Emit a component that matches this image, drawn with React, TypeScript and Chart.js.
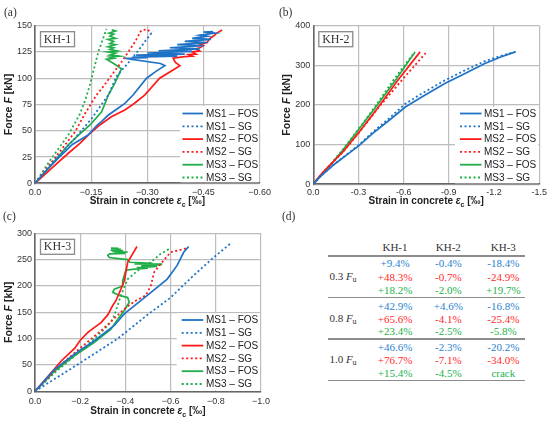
import { useEffect, useRef } from 'react';
import Chart from 'chart.js/auto';

type Pt = [number, number];

const BLUE = '#1f73c6';
const RED = '#ff1a1a';
const GREEN = '#1fae48';
const GRID = '#bdbdbd';
const AXIS = '#666666';
const SANS = '"Liberation Sans", Arial, sans-serif';
const SERIF = '"Liberation Serif", "Times New Roman", serif';

const seriesLabels = ['MS1 – FOS', 'MS1 – SG', 'MS2 – FOS', 'MS2 – SG', 'MS3 – FOS', 'MS3 – SG'];

// KH-1 : [strain ‰, force kN]
const kh1Ms1Fos: Pt[] = [
  [0, 0], [-0.03, 12], [-0.062, 24], [-0.1, 37], [-0.142, 46], [-0.165, 55], [-0.178, 59], [-0.196, 65],
  [-0.22, 71], [-0.24, 76], [-0.262, 84], [-0.298, 100], [-0.325, 107], [-0.347, 112], [-0.335, 114],
  [-0.25, 118.5], [-0.24, 119], [-0.3, 119.5], [-0.26, 120], [-0.38, 121], [-0.27, 122], [-0.4, 123],
  [-0.3, 124], [-0.42, 125.5], [-0.33, 126], [-0.44, 128], [-0.36, 129], [-0.45, 131], [-0.38, 132],
  [-0.46, 134], [-0.4, 135], [-0.47, 137], [-0.42, 138], [-0.46, 140], [-0.44, 141], [-0.48, 143],
  [-0.45, 144], [-0.476, 144.5],
];
const kh1Ms1Sg: Pt[] = [
  [0, 0], [-0.05, 21], [-0.107, 43], [-0.15, 61], [-0.196, 84], [-0.218, 102], [-0.25, 115],
  [-0.275, 126], [-0.3, 138], [-0.316, 145],
];
const kh1Ms2Fos: Pt[] = [
  [0, 0], [-0.05, 16], [-0.089, 28.6], [-0.12, 38], [-0.147, 47.6], [-0.175, 56], [-0.204, 63.4],
  [-0.24, 69.8], [-0.265, 76], [-0.293, 84], [-0.333, 100], [-0.36, 106], [-0.387, 112], [-0.375, 115],
  [-0.369, 119], [-0.4, 120.5], [-0.42, 121], [-0.41, 122.5], [-0.43, 123], [-0.42, 125], [-0.44, 126],
  [-0.43, 128], [-0.44, 129], [-0.45, 131], [-0.44, 132.5], [-0.46, 134], [-0.465, 137], [-0.47, 138.5],
  [-0.48, 141], [-0.485, 143], [-0.5, 146],
];
const kh1Ms2Sg: Pt[] = [
  [0, 0], [-0.053, 24], [-0.107, 49], [-0.133, 66], [-0.164, 84], [-0.178, 90], [-0.205, 103],
  [-0.231, 115.5], [-0.267, 134.5], [-0.284, 145.6], [-0.3, 146.5], [-0.311, 143],
];
const kh1Ms3Fos: Pt[] = [
  [0, 0], [-0.045, 18], [-0.089, 36.5], [-0.12, 47], [-0.147, 55.5], [-0.178, 68], [-0.196, 84],
  [-0.213, 95], [-0.222, 102], [-0.231, 109], [-0.21, 114], [-0.191, 118], [-0.21, 119], [-0.2, 120],
  [-0.225, 121], [-0.2, 122], [-0.215, 124], [-0.195, 125], [-0.22, 126], [-0.2, 127.5], [-0.21, 129],
  [-0.195, 130], [-0.215, 132], [-0.2, 133], [-0.21, 135], [-0.195, 137], [-0.215, 138], [-0.2, 140],
  [-0.21, 142], [-0.198, 143], [-0.215, 145], [-0.205, 146],
];
const kh1Ms3Sg: Pt[] = [
  [0, 0], [-0.044, 23.8], [-0.089, 46], [-0.12, 66], [-0.135, 80], [-0.147, 94], [-0.169, 125], [-0.191, 147],
];

// KH-2
const kh2Ms1Fos: Pt[] = [
  [0, 0], [-0.044, 18.5], [-0.131, 48], [-0.218, 73], [-0.305, 98], [-0.393, 128], [-0.502, 161],
  [-0.611, 195], [-0.72, 220], [-0.873, 254], [-1.004, 279], [-1.135, 304], [-1.244, 321], [-1.342, 334],
];
const kh2Ms1Sg: Pt[] = [
  [0, 0], [-0.044, 19], [-0.131, 48.5], [-0.218, 74], [-0.305, 100], [-0.393, 131], [-0.502, 166],
  [-0.611, 203], [-0.72, 229], [-0.873, 262], [-1.004, 287], [-1.135, 310], [-1.244, 324], [-1.342, 334],
];
const kh2Ms2Fos: Pt[] = [
  [0, 0], [-0.03, 15], [-0.065, 31], [-0.196, 81.5], [-0.305, 132], [-0.425, 191], [-0.56, 262], [-0.709, 334],
];
const kh2Ms2Sg: Pt[] = [
  [0, 0], [-0.03, 15], [-0.065, 30], [-0.196, 81], [-0.305, 131], [-0.436, 195], [-0.6, 268], [-0.753, 334],
];
const kh2Ms3Fos: Pt[] = [
  [0, 0], [-0.03, 14], [-0.065, 27], [-0.196, 86], [-0.305, 140], [-0.415, 195], [-0.55, 265], [-0.676, 334],
];
const kh2Ms3Sg: Pt[] = [
  [0, 0], [-0.03, 14], [-0.06, 26], [-0.19, 85], [-0.3, 139], [-0.41, 196], [-0.53, 262], [-0.665, 330],
];

// KH-3
const kh3Ms1Fos: Pt[] = [
  [0, 0], [-0.088, 42], [-0.176, 71], [-0.263, 96], [-0.351, 125], [-0.395, 147], [-0.497, 182],
  [-0.585, 213], [-0.629, 239], [-0.658, 264], [-0.68, 275],
];
const kh3Ms1Sg: Pt[] = [
  [0, 0], [-0.1, 27], [-0.2, 54], [-0.366, 100], [-0.5, 146], [-0.6, 178], [-0.702, 220], [-0.79, 254], [-0.863, 280],
];
const kh3Ms2Fos: Pt[] = [
  [0, 0], [-0.073, 36], [-0.117, 58], [-0.176, 82], [-0.2, 97], [-0.234, 112], [-0.293, 131], [-0.322, 145],
  [-0.344, 163], [-0.358, 172], [-0.38, 194], [-0.395, 210], [-0.402, 226], [-0.41, 245], [-0.432, 261], [-0.451, 275],
];
const kh3Ms2Sg: Pt[] = [
  [0, 0], [-0.1, 45], [-0.2, 82], [-0.3, 118], [-0.402, 159], [-0.446, 172], [-0.49, 182], [-0.512, 200],
  [-0.527, 226], [-0.556, 242], [-0.6, 264], [-0.658, 270], [-0.676, 273],
];
const kh3Ms3Fos: Pt[] = [
  [0, 0], [-0.088, 39], [-0.176, 68], [-0.263, 93], [-0.336, 118], [-0.366, 137], [-0.388, 149], [-0.417, 169],
  [-0.41, 178], [-0.373, 182], [-0.344, 188], [-0.351, 194], [-0.388, 200], [-0.388, 210], [-0.395, 220],
  [-0.402, 230], [-0.44, 232], [-0.5, 234], [-0.45, 235], [-0.54, 237], [-0.47, 238], [-0.56, 240],
  [-0.49, 240.5], [-0.563, 241.5], [-0.44, 242], [-0.52, 243], [-0.42, 245], [-0.41, 250], [-0.37, 252],
  [-0.329, 254], [-0.322, 258], [-0.33, 261], [-0.4, 262], [-0.35, 263], [-0.41, 264.5], [-0.34, 265.5],
  [-0.39, 267], [-0.335, 268], [-0.38, 269.5], [-0.34, 270.5], [-0.37, 271.5], [-0.336, 272],
];
const kh3Ms3Sg: Pt[] = [
  [0, 0], [-0.1, 40], [-0.2, 76], [-0.263, 100], [-0.3, 115], [-0.336, 131], [-0.351, 144], [-0.38, 182],
  [-0.41, 213], [-0.454, 229], [-0.512, 245], [-0.556, 261], [-0.6, 272],
];

// tick values / labels
const kh1XTicks = [0, -0.15, -0.3, -0.45, -0.6];
const kh1XLabels = ['0.0', '−0.15', '−0.30', '−0.45', '−0.60'];
const kh1YTicks = [0, 25, 50, 75, 100, 125, 150];
const kh2XTicks = [0, -0.3, -0.6, -0.9, -1.2, -1.5];
const kh2XLabels = ['0.0', '-0.3', '-0.6', '-0.9', '-1.2', '-1.5'];
const kh2YTicks = [0, 100, 200, 300, 400];
const kh3XTicks = [0, -0.2, -0.4, -0.6, -0.8, -1.0];
const kh3XLabels = ['0.0', '−0.2', '−0.4', '−0.6', '−0.8', '−1.0'];
const kh3YTicks = [0, 50, 100, 150, 200, 250, 300];

// table (d)
const tableCols = ['KH-1', 'KH-2', 'KH-3'];
const loadLevels = ['0.3', '0.8', '1.0'];
const diff03 = [['+9.4%', '+48.3%', '+18.2%'], ['-0.4%', '-0.7%', '-2.0%'], ['-18.4%', '-24.9%', '+19.7%']];
const diff08 = [['+42.9%', '+65.6%', '+23.4%'], ['+4.6%', '-4.1%', '-2.5%'], ['-16.8%', '-25.4%', '-5.8%']];
const diff10 = [['+46.6%', '+76.7%', '+15.4%'], ['-2.3%', '-7.1%', '-4.5%'], ['-20.2%', '-34.0%', 'crack']];

type PanelCfg = {
  left: number; top: number; width: number; height: number;
  pad: { left: number; top: number; right: number; bottom: number };
  yWidth: number; xHeight: number; xPad: number;
  xMin: number; xTicks: number[]; xLabels: string[];
  yMax: number; yTicks: number[];
  series: Pt[][];
  tag: string;
  legendLeft: number; legendTop: number; legendRowY: number; legendGap: number;
  lineX0: number; lineX1: number; textX: number;
  yTitleX: number; xTitleY: number;
};

const colors = [BLUE, BLUE, RED, RED, GREEN, GREEN];

function drawRich(ctx: CanvasRenderingContext2D, parts: { t: string; f: string; dy?: number }[], cx: number, cy: number) {
  let total = 0;
  parts.forEach((p) => { ctx.font = p.f; total += ctx.measureText(p.t).width; });
  let x = cx - total / 2;
  ctx.textAlign = 'left';
  ctx.textBaseline = 'middle';
  parts.forEach((p) => {
    ctx.font = p.f;
    ctx.fillText(p.t, x, cy + (p.dy || 0));
    x += ctx.measureText(p.t).width;
  });
}

function decor(cfg: PanelCfg) {
  return {
    id: 'panelDecor',
    afterDatasetsDraw(chart: any) {
      const ctx: CanvasRenderingContext2D = chart.ctx;
      const a = chart.chartArea;
      ctx.save();
      ctx.fillStyle = '#ffffff';
      ctx.fillRect(cfg.legendLeft, cfg.legendTop, a.right - 1 - cfg.legendLeft, a.bottom - 1 - cfg.legendTop);
      chart.data.datasets.forEach((ds: any, i: number) => {
        const y = cfg.legendRowY + i * cfg.legendGap;
        ctx.strokeStyle = ds.borderColor;
        ctx.lineWidth = 1.8;
        ctx.setLineDash(ds.borderDash || []);
        ctx.beginPath();
        ctx.moveTo(cfg.lineX0, y);
        ctx.lineTo(cfg.lineX1, y);
        ctx.stroke();
        ctx.setLineDash([]);
        ctx.fillStyle = '#222';
        ctx.font = `10px ${SANS}`;
        ctx.textAlign = 'left';
        ctx.textBaseline = 'middle';
        ctx.fillText(ds.label, cfg.textX, y + 0.5);
      });
      // specimen tag
      const bx = a.left + 5.5, by = a.top + 6, bw = 34, bh = 15;
      ctx.fillStyle = '#ffffff';
      ctx.fillRect(bx, by, bw, bh);
      ctx.strokeStyle = '#8a8a8a';
      ctx.lineWidth = 1.3;
      ctx.strokeRect(bx, by, bw, bh);
      ctx.fillStyle = '#333';
      ctx.font = `12px ${SERIF}`;
      ctx.textAlign = 'center';
      ctx.textBaseline = 'middle';
      ctx.fillText(cfg.tag, bx + bw / 2, by + bh / 2 + 0.5);
      ctx.restore();
    },
    afterDraw(chart: any) {
      const ctx: CanvasRenderingContext2D = chart.ctx;
      const a = chart.chartArea;
      ctx.save();
      ctx.fillStyle = '#222';
      const b = `bold 10px ${SANS}`;
      const bi = `italic bold 10px ${SANS}`;
      drawRich(ctx, [
        { t: 'Strain in concrete ', f: b },
        { t: 'ε', f: bi },
        { t: 'c', f: `bold 7px ${SANS}`, dy: 3 },
        { t: ' [‰]', f: b },
      ], (a.left + a.right) / 2, cfg.xTitleY);
      ctx.translate(cfg.yTitleX, (a.top + a.bottom) / 2);
      ctx.rotate(-Math.PI / 2);
      drawRich(ctx, [
        { t: 'Force ', f: `bold 10.5px ${SANS}` },
        { t: 'F', f: `italic bold 10.5px ${SANS}` },
        { t: ' [kN]', f: `bold 10.5px ${SANS}` },
      ], 0, 0);
      ctx.restore();
    },
  };
}

function Panel({ cfg }: { cfg: PanelCfg }) {
  const canvasRef = useRef<HTMLCanvasElement | null>(null);

  useEffect(() => {
    const canvas = canvasRef.current;
    if (!canvas) return;
    const tickFont = { family: SANS, size: 9 };
    const chart = new Chart(canvas, {
      type: 'scatter',
      data: {
        datasets: cfg.series.map((pts, i) => ({
          label: seriesLabels[i],
          data: pts.map(([x, y]) => ({ x, y })),
          showLine: true,
          borderColor: colors[i],
          backgroundColor: colors[i],
          borderWidth: i % 2 === 0 ? 1.7 : 1.8,
          borderDash: i % 2 === 0 ? [] : [2, 2.5],
          pointRadius: 0,
          tension: 0,
        })),
      },
      options: {
        responsive: true,
        maintainAspectRatio: false,
        animation: false,
        layout: { padding: cfg.pad },
        plugins: { legend: { display: false }, tooltip: { enabled: false } },
        scales: {
          x: {
            type: 'linear',
            min: cfg.xMin,
            max: 0,
            reverse: true,
            grid: { color: GRID, lineWidth: 1.2, drawTicks: false },
            border: { color: AXIS, width: 1.6 },
            ticks: {
              font: tickFont, color: '#333', padding: cfg.xPad, autoSkip: false, maxRotation: 0,
              callback: (_v: any, i: number) => cfg.xLabels[i],
            },
            afterBuildTicks: (s: any) => { s.ticks = cfg.xTicks.map((v) => ({ value: v })); },
            afterFit: (s: any) => { s.height = cfg.xHeight; },
          },
          y: {
            type: 'linear',
            min: 0,
            max: cfg.yMax,
            grid: { color: GRID, lineWidth: 1.2, drawTicks: false },
            border: { color: AXIS, width: 1.6 },
            ticks: { font: tickFont, color: '#333', padding: 3, autoSkip: false },
            afterBuildTicks: (s: any) => { s.ticks = cfg.yTicks.map((v) => ({ value: v })); },
            afterFit: (s: any) => { s.width = cfg.yWidth; },
          },
        },
      },
      plugins: [decor(cfg)],
    } as any);
    return () => chart.destroy();
  }, [cfg]);

  return (
    <div style={{ position: 'absolute', left: cfg.left, top: cfg.top, width: cfg.width, height: cfg.height }}>
      <canvas ref={canvasRef} />
    </div>
  );
}

const panelA: PanelCfg = {
  left: 0, top: 0, width: 275, height: 210,
  pad: { left: 0, top: 25.7, right: 15, bottom: 0 },
  yWidth: 35, xHeight: 26.7, xPad: 4,
  xMin: -0.6, xTicks: kh1XTicks, xLabels: kh1XLabels, yMax: 150, yTicks: kh1YTicks,
  series: [kh1Ms1Fos, kh1Ms1Sg, kh1Ms2Fos, kh1Ms2Sg, kh1Ms3Fos, kh1Ms3Sg],
  tag: 'KH-1',
  legendLeft: 180, legendTop: 106, legendRowY: 113.5, legendGap: 12.8,
  lineX0: 182.5, lineX1: 203, textX: 206,
  yTitleX: 9.5, xTitleY: 201.7,
};

const panelB: PanelCfg = {
  left: 275, top: 0, width: 275, height: 210,
  pad: { left: 0, top: 25.7, right: 10, bottom: 0 },
  yWidth: 38.3, xHeight: 25.7, xPad: 3,
  xMin: -1.5, xTicks: kh2XTicks, xLabels: kh2XLabels, yMax: 400, yTicks: kh2YTicks,
  series: [kh2Ms1Fos, kh2Ms1Sg, kh2Ms2Fos, kh2Ms2Sg, kh2Ms3Fos, kh2Ms3Sg],
  tag: 'KH-2',
  legendLeft: 180, legendTop: 107, legendRowY: 113.5, legendGap: 12.8,
  lineX0: 185, lineX1: 206.5, textX: 209,
  yTitleX: 11.7, xTitleY: 201.7,
};

const panelC: PanelCfg = {
  left: 0, top: 210, width: 275, height: 211,
  pad: { left: 0, top: 23.3, right: 14, bottom: 0 },
  yWidth: 35, xHeight: 29.7, xPad: 5,
  xMin: -1.0, xTicks: kh3XTicks, xLabels: kh3XLabels, yMax: 300, yTicks: kh3YTicks,
  series: [kh3Ms1Fos, kh3Ms1Sg, kh3Ms2Fos, kh3Ms2Sg, kh3Ms3Fos, kh3Ms3Sg],
  tag: 'KH-3',
  legendLeft: 176.7, legendTop: 103.3, legendRowY: 110, legendGap: 12.8,
  lineX0: 181.7, lineX1: 203.3, textX: 206,
  yTitleX: 9.5, xTitleY: 201.7,
};

const colX = [395, 448.3, 503.3];
const groupRowY = [[263.3, 276.7, 290], [306, 318.7, 331.3], [347, 360, 372.7]];
const ruleY = [256, 297.3, 339, 380.7];
const tableColors = ['#2a7fd0', '#ff2a2a', '#22b04b'];

function Cell({ x, y, color, children }: { x: number; y: number; color: string; children: any }) {
  return (
    <div style={{
      position: 'absolute', left: x, top: y, transform: 'translate(-50%, -50%)', whiteSpace: 'nowrap',
      fontFamily: SERIF, fontSize: 11, lineHeight: 1, color,
    }}>{children}</div>
  );
}

function DiffTable() {
  const groups = [diff03, diff08, diff10];
  return (
    <>
      {tableCols.map((c, i) => <Cell key={c} x={colX[i]} y={247.3} color="#333">{c}</Cell>)}
      {ruleY.map((y) => (
        <div key={y} style={{ position: 'absolute', left: 328, top: y - 0.75, width: 197, height: 1.5, background: '#8c8c8c' }} />
      ))}
      {groups.map((g, gi) => (
        <div key={gi}>
          <Cell x={343} y={groupRowY[gi][1]} color="#333">
            {loadLevels[gi]} <i>F</i><sub style={{ fontSize: 8, verticalAlign: -2 }}>u</sub>
          </Cell>
          {g.map((col, ci) => col.map((v, ri) => (
            <Cell key={`${ci}-${ri}`} x={colX[ci]} y={groupRowY[gi][ri]} color={tableColors[ri]}>{v}</Cell>
          )))}
        </div>
      ))}
    </>
  );
}

const panelTag = (t: string, x: number, y: number) => (
  <div style={{ position: 'absolute', left: x, top: y, fontFamily: SERIF, fontSize: 11.5, lineHeight: 1, color: '#333' }}>{t}</div>
);

export default function App() {
  return (
    <div style={{ position: 'absolute', left: 0, top: 0, width: 550, height: 421, background: '#fff', overflow: 'hidden' }}>
      <Panel cfg={panelA} />
      <Panel cfg={panelB} />
      <Panel cfg={panelC} />
      {panelTag('(a)', 4, 7)}
      {panelTag('(b)', 279, 7)}
      {panelTag('(c)', 3, 211)}
      {panelTag('(d)', 282, 211)}
      <DiffTable />
    </div>
  );
}
